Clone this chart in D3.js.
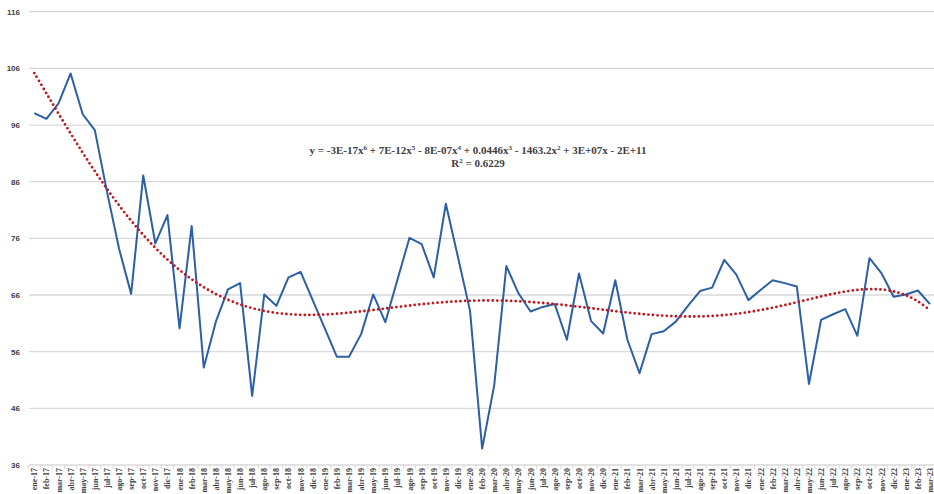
<!DOCTYPE html>
<html>
<head>
<meta charset="utf-8">
<script src="https://cdn.jsdelivr.net/npm/d3@7"></script>
<style>
  html, body { margin: 0; padding: 0; background: #ffffff; }
  svg { display: block; }
</style>
</head>
<body>
<svg id="chart" width="934" height="494"></svg>
<script>
// Monthly categories, ene-17 .. mar-23
const months = [
  "ene-17","feb-17","mar-17","abr-17","may-17","jun-17","jul-17","ago-17","sep-17","oct-17","nov-17","dic-17",
  "ene-18","feb-18","mar-18","abr-18","may-18","jun-18","jul-18","ago-18","sep-18","oct-18","nov-18","dic-18",
  "ene-19","feb-19","mar-19","abr-19","may-19","jun-19","jul-19","ago-19","sep-19","oct-19","nov-19","dic-19",
  "ene-20","feb-20","mar-20","abr-20","may-20","jun-20","jul-20","ago-20","sep-20","oct-20","nov-20","dic-20",
  "ene-21","feb-21","mar-21","abr-21","may-21","jun-21","jul-21","ago-21","sep-21","oct-21","nov-21","dic-21",
  "ene-22","feb-22","mar-22","abr-22","may-22","jun-22","jul-22","ago-22","sep-22","oct-22","nov-22","dic-22",
  "ene-23","feb-23","mar-23"
];

// Index values per month
const values2017 = [98.1, 97.1, 99.8, 105.1, 97.9, 95.1, 84.3, 74.2, 66.2, 87.1, 75.1, 80.1];
const values2018 = [60.1, 78.2, 53.2, 61.3, 67.0, 68.1, 48.2, 66.1, 64.1, 69.1, 70.1, 65.1];
const values2019 = [60.1, 55.1, 55.1, 59.1, 66.1, 61.2, 68.7, 76.1, 75.0, 69.1, 82.1, 72.7];
const values2020 = [63.2, 38.9, 50.1, 71.1, 66.3, 63.1, 63.9, 64.4, 58.1, 69.8, 61.4, 59.2];
const values2021 = [68.6, 58.1, 52.2, 59.1, 59.6, 61.3, 64.1, 66.7, 67.3, 72.2, 69.6, 65.1];
const values2022 = [66.9, 68.6, 68.1, 67.5, 50.3, 61.6, 62.6, 63.5, 58.8, 72.5, 69.8, 65.7];
const values2023 = [66.1, 66.8, 64.4];
const values = [].concat(values2017, values2018, values2019, values2020, values2021, values2022, values2023);

// Axis ticks and trendline label
const yTicks = [36, 46, 56, 66, 76, 86, 96, 106, 116];
const trendDegree = 6;
const equationTerms = [
  ["y = -3E-17x", "6"], [" + 7E-12x", "5"], [" - 8E-07x", "4"], [" + 0.0446x", "3"],
  [" - 1463.2x", "2"], [" + 3E+07x - 2E+11", null]
];
const r2Terms = [["R", "2"], [" = 0.6229", null]];

const W = 934, H = 494;
const svg = d3.select("#chart");

const x = d3.scaleBand().domain(months).range([28.25, 936.05]).padding(0);
const cx = d => x(d) + x.bandwidth() / 2;
const y = d3.scaleLinear().domain([36, 116]).range([465, 11.7]);

// Horizontal gridlines
svg.append("g")
  .selectAll("line")
  .data(yTicks)
  .join("line")
  .attr("x1", 29).attr("x2", W)
  .attr("y1", d => y(d)).attr("y2", d => y(d))
  .attr("stroke", "#d9d9d9")
  .attr("stroke-width", 1.3);

// Y axis labels
const yAxis = d3.axisLeft(y).tickValues(yTicks).tickSize(0).tickPadding(0);
svg.append("g")
  .attr("transform", "translate(20,0)")
  .call(yAxis)
  .call(g => g.select(".domain").remove())
  .call(g => g.selectAll("text")
    .attr("font-family", "'Liberation Sans', Arial, sans-serif")
    .attr("font-weight", "bold")
    .attr("font-size", 8)
    .attr("fill", "#404040"));

// X axis: category boundary ticks and rotated labels
svg.append("g")
  .selectAll("line")
  .data(months)
  .join("line")
  .attr("x1", d => x(d)).attr("x2", d => x(d))
  .attr("y1", 465).attr("y2", 469)
  .attr("stroke", "#d9d9d9").attr("stroke-width", 1);

const xAxis = d3.axisBottom(x).tickSize(0).tickPadding(0);
svg.append("g")
  .attr("transform", "translate(0,465)")
  .call(xAxis)
  .call(g => g.select(".domain").remove())
  .call(g => g.selectAll("text")
    .attr("font-family", "'Liberation Serif', 'Times New Roman', serif")
    .attr("font-weight", "bold")
    .attr("font-size", 8)
    .attr("fill", "#404040")
    .attr("text-anchor", "end")
    .attr("dy", null)
    .attr("transform", "translate(3,3) rotate(-90)"));

// Polynomial least-squares trendline on the monthly index
function polyFit(ys, degree) {
  const n = ys.length, mid = (n - 1) / 2;
  const ts = ys.map((_, i) => (i - mid) / mid);
  const m = degree + 1;
  const A = Array.from({length: m}, () => new Array(m).fill(0));
  const b = new Array(m).fill(0);
  ts.forEach((t, k) => {
    const pw = [1];
    for (let p = 1; p < 2 * m; p++) pw.push(pw[p - 1] * t);
    for (let i = 0; i < m; i++) {
      b[i] += ys[k] * pw[i];
      for (let j = 0; j < m; j++) A[i][j] += pw[i + j];
    }
  });
  for (let c = 0; c < m; c++) {
    let piv = c;
    for (let r = c + 1; r < m; r++) if (Math.abs(A[r][c]) > Math.abs(A[piv][c])) piv = r;
    [A[c], A[piv]] = [A[piv], A[c]];
    [b[c], b[piv]] = [b[piv], b[c]];
    for (let r = c + 1; r < m; r++) {
      const f = A[r][c] / A[c][c];
      for (let j = c; j < m; j++) A[r][j] -= f * A[c][j];
      b[r] -= f * b[c];
    }
  }
  const coef = new Array(m).fill(0);
  for (let r = m - 1; r >= 0; r--) {
    let s = b[r];
    for (let j = r + 1; j < m; j++) s -= A[r][j] * coef[j];
    coef[r] = s / A[r][r];
  }
  return i => {
    const t = (i - mid) / mid;
    let v = 0;
    for (let p = m - 1; p >= 0; p--) v = v * t + coef[p];
    return v;
  };
}
const trend = polyFit(values, trendDegree);

// Data line
const line = d3.line()
  .x((d, i) => cx(months[i]))
  .y(d => y(d));
svg.append("path")
  .datum(values)
  .attr("fill", "none")
  .attr("stroke", "#2b5fa6")
  .attr("stroke-width", 2)
  .attr("stroke-linejoin", "round")
  .attr("d", line);

// Dotted trendline
const trendLine = d3.line()
  .x((d, i) => cx(months[i]))
  .y((d, i) => y(trend(i)))
  .curve(d3.curveCatmullRom);
svg.append("path")
  .datum(values)
  .attr("fill", "none")
  .attr("stroke", "#c0161e")
  .attr("stroke-width", 2.8)
  .attr("stroke-linecap", "round")
  .attr("stroke-dasharray", "0,4.6")
  .attr("d", trendLine);

// Text with superscript exponents; the baseline shift is undone on the next run
function writeTerms(textSel, terms) {
  let pending = 0;
  terms.forEach(([base, sup]) => {
    const t = textSel.append("tspan").text(base);
    if (pending) t.attr("dy", pending);
    pending = 0;
    if (sup) {
      textSel.append("tspan").attr("dy", -4).attr("font-size", 7).text(sup);
      pending = 4;
    }
  });
}
function labelText(yPos) {
  return svg.append("text")
    .attr("x", 478).attr("y", yPos)
    .attr("text-anchor", "middle")
    .attr("font-family", "'Liberation Serif', 'Times New Roman', serif")
    .attr("font-weight", "bold")
    .attr("font-size", 11)
    .attr("fill", "#404040");
}
writeTerms(labelText(154), equationTerms);
writeTerms(labelText(167), r2Terms);
</script>
</body>
</html>
